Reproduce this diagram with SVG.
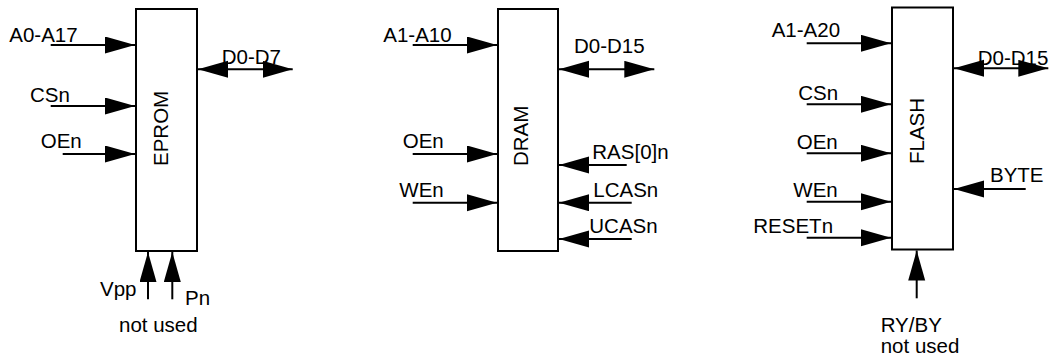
<svg xmlns="http://www.w3.org/2000/svg" width="1050" height="358" viewBox="0 0 1050 358">
<defs>
<marker id="ah" markerUnits="userSpaceOnUse" markerWidth="31" markerHeight="18" viewBox="0 0 31 18" refX="30" refY="8.5" orient="auto-start-reverse">
<path d="M0,0 L30,8.5 L0,17 z" fill="#000"/>
</marker>
<style>
text{font-family:"Liberation Sans",Arial,sans-serif;font-size:20.5px;fill:#000}
.box{fill:#fff;stroke:#000;stroke-width:2}
.w{stroke:#000;stroke-width:2;fill:none;marker-end:url(#ah)}
.bi{stroke:#000;stroke-width:2;fill:none;marker-end:url(#ah);marker-start:url(#ah)}
</style>
</defs>
<rect width="1050" height="358" fill="#fff"/>
<g id="eprom">
<rect class="box" x="136" y="9" width="61" height="242"/>
<text transform="translate(168,166) rotate(-90)">EPROM</text>
<text x="9.3" y="41.7">A0-A17</text>
<text x="30" y="101.7">CSn</text>
<text x="40.7" y="148.3">OEn</text>
<text x="221.7" y="64">D0-D7</text>
<text x="100" y="296">Vpp</text>
<text x="185" y="305">Pn</text>
<text x="119" y="331.7">not used</text>
</g>
<g id="dram">
<rect class="box" x="498" y="9" width="60" height="242"/>
<text transform="translate(528,166) rotate(-90)">DRAM</text>
<text x="383.3" y="41.7">A1-A10</text>
<text x="574" y="53.3">D0-D15</text>
<text x="402.7" y="148">OEn</text>
<text x="592.3" y="159.3">RAS[0]n</text>
<text x="399.3" y="197.3">WEn</text>
<text x="593.3" y="197.3">LCASn</text>
<text x="589.3" y="233.3">UCASn</text>
</g>
<g id="flash">
<rect class="box" x="892" y="7.5" width="61" height="242"/>
<text transform="translate(924.3,164) rotate(-90)">FLASH</text>
<text x="771.7" y="37.3">A1-A20</text>
<text x="977.7" y="65">D0-D15</text>
<text x="798.3" y="100">CSn</text>
<text x="796.7" y="149">OEn</text>
<text x="793.3" y="197.3">WEn</text>
<text x="753.3" y="233.3">RESETn</text>
<text x="990" y="182.3">BYTE</text>
<text x="880.7" y="331.7">RY/BY</text>
<text x="880.7" y="353.3">not used</text>
</g>
<g id="connectors">
<line class="w" x1="50.7" y1="45" x2="135" y2="45"/>
<line class="w" x1="50.7" y1="106" x2="135" y2="106"/>
<line class="w" x1="62.7" y1="154" x2="135" y2="154"/>
<line class="bi" x1="198" y1="69.3" x2="292.7" y2="69.3"/>
<line class="w" x1="148" y1="299.3" x2="148" y2="252"/>
<line class="w" x1="172.3" y1="299.3" x2="172.3" y2="252"/>
<line class="w" x1="412.7" y1="45" x2="497" y2="45"/>
<line class="bi" x1="559" y1="69.3" x2="654.3" y2="69.3"/>
<line class="w" x1="412.7" y1="154" x2="497" y2="154"/>
<line class="w" x1="626.7" y1="165" x2="559" y2="165"/>
<line class="w" x1="412.7" y1="202.7" x2="497" y2="202.7"/>
<line class="w" x1="631.7" y1="202.7" x2="559" y2="202.7"/>
<line class="w" x1="631.7" y1="239" x2="559" y2="239"/>
<line class="w" x1="806.7" y1="43.3" x2="891" y2="43.3"/>
<line class="bi" x1="954" y1="68.3" x2="1048.3" y2="68.3"/>
<line class="w" x1="806.7" y1="104.3" x2="891" y2="104.3"/>
<line class="w" x1="806.7" y1="153.3" x2="891" y2="153.3"/>
<line class="w" x1="806.7" y1="201.7" x2="891" y2="201.7"/>
<line class="w" x1="806.7" y1="237.7" x2="891" y2="237.7"/>
<line class="w" x1="1025.7" y1="189" x2="954" y2="189"/>
<line class="w" x1="916.7" y1="298.3" x2="916.7" y2="250.5"/>
</g>
</svg>
